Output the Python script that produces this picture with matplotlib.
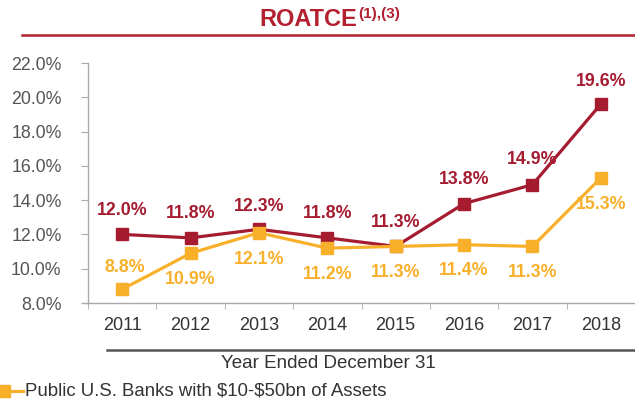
import matplotlib
matplotlib.use("Agg")
import matplotlib.pyplot as plt
from matplotlib.lines import Line2D

plt.rcParams['font.family'] = ['Liberation Sans', 'DejaVu Sans']

years = ["2011", "2012", "2013", "2014", "2015", "2016", "2017", "2018"]
company = [12.0, 11.8, 12.3, 11.8, 11.3, 13.8, 14.9, 19.6]
peers = [8.8, 10.9, 12.1, 11.2, 11.3, 11.4, 11.3, 15.3]
yticks = [8, 10, 12, 14, 16, 18, 20, 22]
peer_label = "Public U.S. Banks with \\$10-\\$50bn of Assets"

RED = "#A51C30"
ORANGE = "#F8B02B"
GRAY = "#555555"

W, H = 635, 405
fig = plt.figure(figsize=(W / 100, H / 100), dpi=100)
fig.patch.set_facecolor("white")

ax = fig.add_axes([88 / W, 1 - 303 / H, (635 - 88) / W, 240 / H])
x = list(range(len(years)))
ax.plot(x, company, color=RED, lw=2.3, marker="s", ms=8, zorder=3)
ax.plot(x, peers, color=ORANGE, lw=2.3, marker="s", ms=8, zorder=4)

ax.set_xlim(-0.5, 7.42)
ax.set_ylim(8, 22)
ax.set_yticks(yticks)
ax.set_yticklabels([f"{v:.1f}%" for v in yticks], fontsize=12.8, color=GRAY)
ax.set_xticks(x)
ax.set_xticklabels(years, fontsize=13, color="#333333")
ax.set_xticks([i + 0.5 for i in range(-1, 8)], minor=True)
ax.tick_params(axis="x", which="major", length=0, pad=10)
ax.tick_params(axis="x", which="minor", length=4, color="#aaaaaa", direction="out")
ax.tick_params(axis="y", length=5, color="#aaaaaa", direction="out", pad=14)
for s in ["top", "right"]:
    ax.spines[s].set_visible(False)
for s in ["left", "bottom"]:
    ax.spines[s].set_color("#aaaaaa")
    ax.spines[s].set_linewidth(1.0)
# small extension of the x axis line to the left of the y axis
fig.add_artist(Line2D([83 / W, 88 / W], [1 - 303 / H] * 2, color="#aaaaaa", lw=1.0))

red_off = [24, 24, 23, 24, 24, 24, 25, 23]
org_off = [22, -26, -27, -26, -26, -26, -26, -27]
for i in x:
    ax.annotate(f"{company[i]:.1f}%", (i, company[i]), xytext=(0, red_off[i]),
                textcoords="offset pixels", ha="center", va="center",
                fontsize=12.8, fontweight="bold", color=RED, zorder=5)
    ax.annotate(f"{peers[i]:.1f}%", (i, peers[i]), xytext=(3 if i == 0 else 0, org_off[i]),
                textcoords="offset pixels", ha="center", va="center",
                fontsize=12.8, fontweight="bold", color=ORANGE, zorder=5)

# Title
fig.text(357 / W, 1 - 19 / H, "ROATCE", ha="right", va="center", fontsize=17,
         fontweight="bold", color="#B3202F")
fig.text(358 / W, 1 - 14 / H, "(1),(3)", ha="left", va="center", fontsize=11,
         fontweight="bold", color="#B3202F")
fig.add_artist(Line2D([22 / W, 1], [1 - 35 / H] * 2, color="#B3202F", lw=1.8))

# Axis group line and label
fig.add_artist(Line2D([107 / W, 1], [1 - 350 / H] * 2, color="#555555", lw=1.8))
fig.text(328 / W, 1 - 364 / H, "Year Ended December 31", ha="center", va="center",
         fontsize=13.5, color="#333333")

# Legend
fig.add_artist(Line2D([0, 23 / W], [1 - 391 / H] * 2, color=ORANGE, lw=2.3))
fig.add_artist(Line2D([4 / W], [1 - 391 / H], color=ORANGE, marker="s", ms=8))
fig.text(25 / W, 1 - 391 / H, peer_label, ha="left", va="center", fontsize=13.4,
         color="#333333")

fig.savefig("out.png", dpi=100, facecolor="white")
